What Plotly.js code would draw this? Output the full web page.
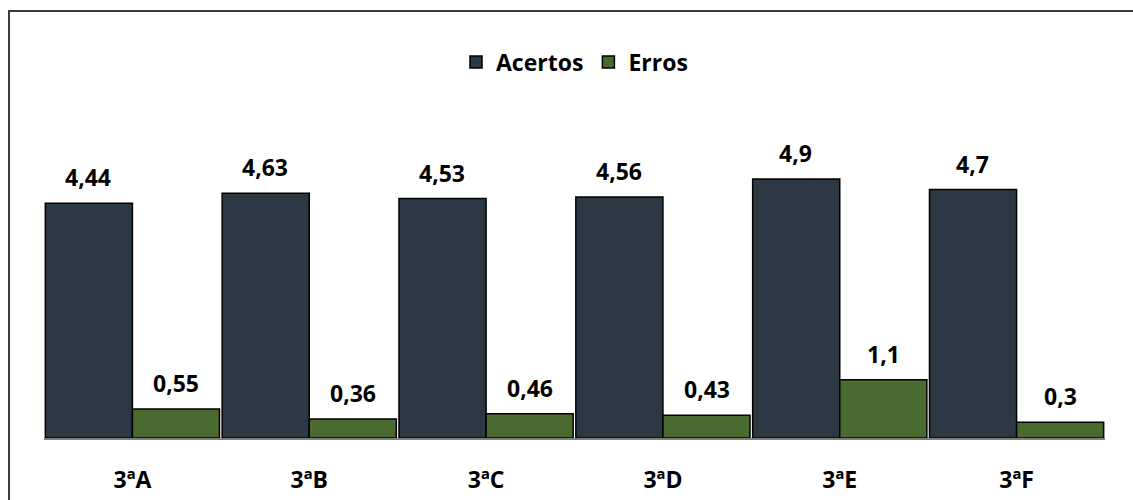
<!DOCTYPE html>
<html>
<head>
<meta charset="utf-8">
<script src="https://cdn.plot.ly/plotly-3.0.1.min.js"></script>
<style>
  html, body { margin: 0; padding: 0; background: #fff; overflow: hidden; }
  #frame { position: absolute; left: 8px; top: 10px; width: 1200px; height: 600px;
           border-left: 2px solid #3c3c3c; border-top: 2px solid #3c3c3c; box-sizing: border-box; }
  #chart { position: absolute; left: 0; top: 0; width: 1133px; height: 500px; }
</style>
</head>
<body>
<div id="frame"></div>
<div id="chart"></div>
<script>
// Turmas e médias de acertos / erros
const turmas = ["3ªA", "3ªB", "3ªC", "3ªD", "3ªE", "3ªF"];
const acertos = [4.44, 4.63, 4.53, 4.56, 4.9, 4.7];
const erros = [0.55, 0.36, 0.46, 0.43, 1.1, 0.3];

const corAcertos = "#2d3845";
const corErros = "#4a6a2f";
const fonte = "'Open Sans', Lato, sans-serif";
const tam = 23;

function rotulo(v) { return String(v).replace(".", ","); }

const traces = [
  { type: "bar", name: "Acertos", x: turmas, y: acertos,
    marker: { color: corAcertos, line: { color: "#000", width: 1.5 } }, hoverinfo: "skip" },
  { type: "bar", name: "Erros", x: turmas, y: erros,
    marker: { color: corErros, line: { color: "#000", width: 1.5 } }, hoverinfo: "skip" }
];

// Rótulos de valor acima de cada barra
const annotations = [];
turmas.forEach((t, i) => {
  annotations.push({ x: t, y: acertos[i], text: rotulo(acertos[i]), showarrow: false,
    xshift: -44, yshift: 8, yanchor: "bottom",
    font: { family: fonte, size: tam, color: "#000", weight: "bold" } });
  annotations.push({ x: t, y: erros[i], text: rotulo(erros[i]), showarrow: false,
    xshift: 44, yshift: 8, yanchor: "bottom",
    font: { family: fonte, size: tam, color: "#000", weight: "bold" } });
});

const layout = {
  width: 1133, height: 500,
  margin: { l: 44, r: 28, t: 100, b: 62 },
  paper_bgcolor: "rgba(0,0,0,0)", plot_bgcolor: "rgba(0,0,0,0)",
  barmode: "group", bargap: 0.015, bargroupgap: 0,
  showlegend: true,
  legend: { orientation: "h", x: 0.5, xanchor: "center", y: 1.112, yanchor: "middle",
    font: { family: fonte, size: tam, color: "#000", weight: "bold" }, itemwidth: 30,
    traceorder: "normal" },
  xaxis: { type: "category", showline: true, linecolor: "#808080", linewidth: 2,
    ticks: "", ticklabelstandoff: 20, showgrid: false, zeroline: false,
    tickfont: { family: fonte, size: tam, color: "#000", weight: "bold" } },
  yaxis: { range: [0, 338 / 52.86], visible: false, showgrid: false, zeroline: false },
  annotations: annotations,
  font: { family: fonte }
};

Plotly.newPlot("chart", traces, layout, { displayModeBar: false, staticPlot: true });
</script>
</body>
</html>
